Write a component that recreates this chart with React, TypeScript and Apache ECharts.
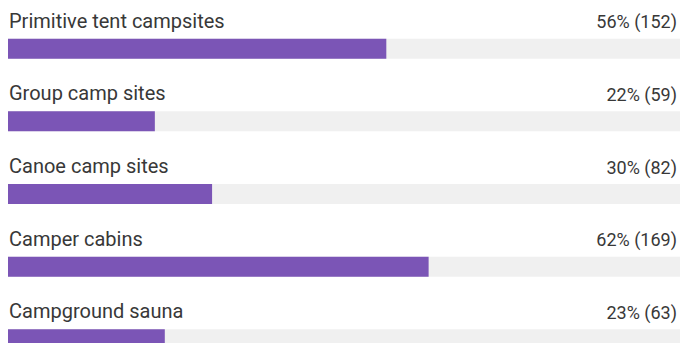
import React, { useEffect, useRef } from "react";
import * as echarts from "echarts";

const categories = [
  "Primitive tent campsites",
  "Group camp sites",
  "Canoe camp sites",
  "Camper cabins",
  "Campground sauna",
];
const percents = [56, 22, 30, 62, 23];
const counts = [152, 59, 82, 169, 63];
const scaleMax = 270;

export default function App() {
  const ref = useRef<HTMLDivElement>(null);
  useEffect(() => {
    const chart = echarts.init(ref.current!, null, { renderer: "svg" });
    const font = "Roboto, 'Noto Sans', sans-serif";
    chart.setOption({
      animation: false,
      grid: { left: 8, top: 48.7, right: 2, bottom: 3.7 },
      xAxis: { type: "value", min: 0, max: scaleMax, show: false },
      yAxis: {
        type: "category",
        data: categories,
        inverse: true,
        boundaryGap: false,
        show: false,
      },
      series: [
        {
          type: "bar",
          barWidth: 20,
          barGap: "-100%",
          silent: true,
          itemStyle: { color: "#f0f0f0" },
          data: categories.map(() => scaleMax),
          label: {
            show: true,
            position: ["100%", -8],
            offset: [-3, 0],
            align: "right",
            verticalAlign: "bottom",
            fontFamily: font,
            fontSize: 18,
            color: "#383838",
            formatter: (p: any) => `${percents[p.dataIndex]}% (${counts[p.dataIndex]})`,
          },
          z: 1,
        },
        {
          type: "bar",
          barWidth: 20,
          barGap: "-100%",
          silent: true,
          itemStyle: { color: "#7b55b6" },
          data: counts,
          label: {
            show: true,
            position: [1, -8],
            align: "left",
            verticalAlign: "bottom",
            fontFamily: font,
            fontSize: 20,
            color: "#383838",
            formatter: (p: any) => categories[p.dataIndex],
          },
          z: 2,
        },
      ],
    });
    return () => chart.dispose();
  }, []);
  return <div ref={ref} style={{ width: 682, height: 343, position: "absolute", left: 0, top: 0 }} />;
}
